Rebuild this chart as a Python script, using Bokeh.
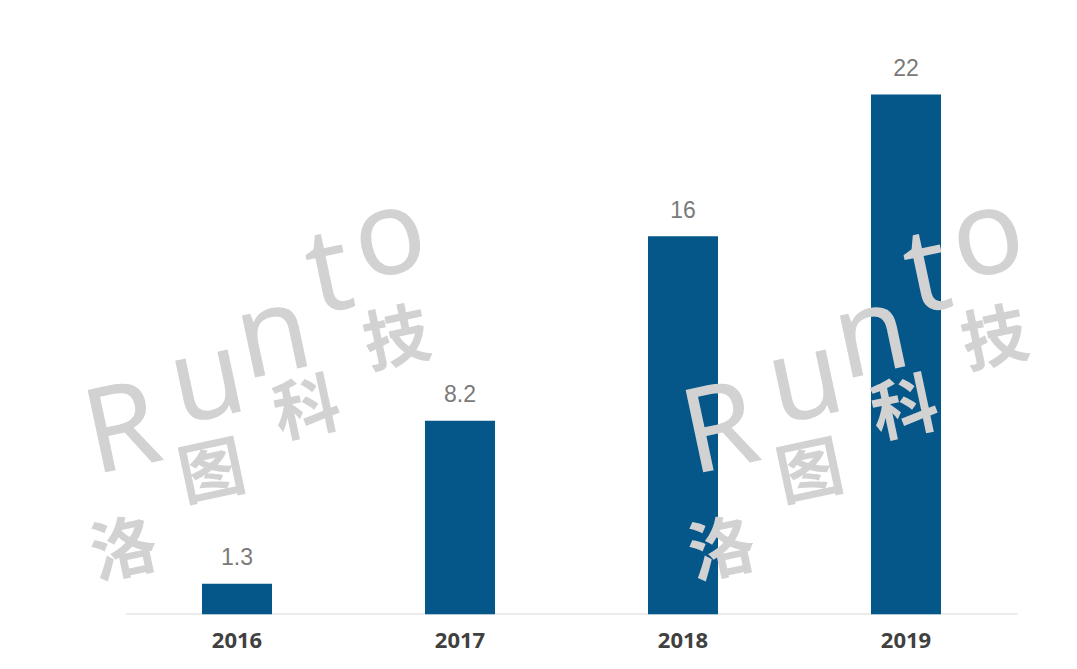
from bokeh.plotting import figure
from bokeh.models import Range1d, Label, ColumnDataSource, FixedTicker
from bokeh.core.properties import value
from bokeh.embed import file_html
from bokeh.resources import INLINE

years = ["2016", "2017", "2018", "2019"]
values = [1.3, 8.2, 16, 22]
value_labels = ["1.3", "8.2", "16", "22"]

BAR = "#05578a"
WM = "#d2d2d2"

# layout (pixels)
FW, FH = 1061, 614          # frame size
LEFT_PX, CAT_PX = 125, 223  # start of category axis, width of one category
PX_PER_UNIT = 591 / 25

xs = [i + 0.5 for i in range(len(years))]
src = ColumnDataSource(dict(x=xs, top=values, lab=value_labels))

p = figure(frame_width=FW, frame_height=FH,
           x_range=Range1d(-LEFT_PX / CAT_PX, (FW - LEFT_PX) / CAT_PX),
           y_range=Range1d(0, FH / PX_PER_UNIT),
           output_backend="svg", toolbar_location=None,
           min_border_left=0, min_border_right=0, min_border_top=0, min_border_bottom=48)
p.outline_line_color = None
p.background_fill_color = "white"
p.border_fill_color = "white"
p.xgrid.visible = False
p.ygrid.visible = False
p.yaxis.visible = False

# category baseline
p.segment(x0=[0], y0=[0], x1=[len(years)], y1=[0], line_color="#d9d9d9", line_width=2)

p.vbar(x="x", top="top", bottom=0, width=0.314, source=src, fill_color=BAR, line_color=None)
p.text(x="x", y="top", text="lab", source=src, text_align="center", text_baseline="alphabetic",
       y_offset=-27, text_font=value("Liberation Sans"), text_font_size="23px", text_color="#7a7a7a")

ax = p.xaxis[0]
ax.ticker = FixedTicker(ticks=xs)
ax.major_label_overrides = {x: y for x, y in zip(xs, years)}
ax.axis_line_color = None
ax.major_tick_line_color = None
ax.minor_tick_line_color = None
ax.major_label_standoff = 12
ax.major_label_text_font = "Open Sans"
ax.major_label_text_font_style = "bold"
ax.major_label_text_font_size = "22px"
ax.major_label_text_color = "#404040"

# watermark decoration (screen-pixel centres converted to plot units)
def px_x(sx):
    return (sx - LEFT_PX) / CAT_PX

def px_y(sy):
    return (FH - sy) / PX_PER_UNIT

latin = [("R", 120, 422), ("u", 205, 372), ("n", 271, 327), ("t", 327, 265), ("o", 387, 228)]
cjk = [("洛", 122, 543), ("图", 210, 465), ("科", 305, 402), ("技", 395, 332)]
for shift in [0, 598]:
    for ch, sx, sy in latin:
        p.add_layout(Label(x=px_x(sx + shift), y=px_y(sy), text=ch, text_font="Noto Sans",
                           text_font_size="118px", text_color=WM, text_align="center",
                           text_baseline="middle", angle=12, angle_units="deg"))
    for ch, sx, sy in cjk:
        p.add_layout(Label(x=px_x(sx + shift), y=px_y(sy), text=ch, text_font="Noto Sans CJK SC",
                           text_font_style="bold", text_font_size="66px", text_color=WM,
                           text_align="center", text_baseline="middle", angle=12, angle_units="deg"))

open("out.html", "w").write(file_html(p, INLINE))
